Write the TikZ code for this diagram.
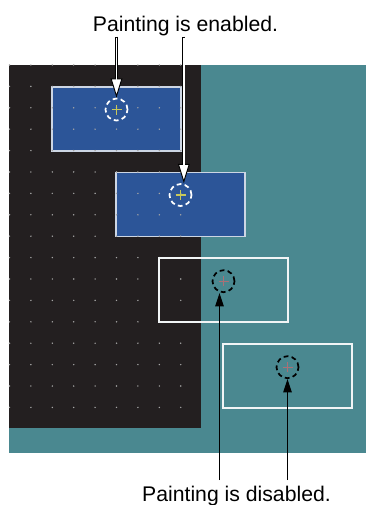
\documentclass[tikz,border=0pt]{standalone}
\usepackage{fontspec}
\setmainfont{Liberation Sans}
\usepackage{xcolor}
\usepackage{tikz}
\usetikzlibrary{positioning, arrows.meta}
\definecolor{teal}{RGB}{74,136,144}
\definecolor{canvas}{RGB}{35,31,32}
\definecolor{winblue}{RGB}{44,85,152}
\definecolor{winedge}{RGB}{205,214,228}
\definecolor{griddot}{RGB}{165,165,165}
\definecolor{crossyel}{RGB}{200,200,90}
\definecolor{crosspink}{RGB}{170,112,118}
\tikzset{
  window/.style={
    rectangle, inner sep=0pt, outer sep=0pt,
    minimum width=96.75pt, minimum height=48pt, line width=1.1pt
  },
  painted/.style={window, draw=winedge, fill=winblue},
  unpainted/.style={window, draw=white!92!teal},
  cursor/.style={
    circle, inner sep=0pt, minimum size=16.5pt, line width=1.3pt,
    dash pattern=on 3.6pt off 2.5pt
  },
  cursor on/.style={cursor, draw=white},
  cursor off/.style={cursor, draw=black},
  hair/.style={line width=0.9pt},
  caption/.style={inner sep=0pt, anchor=base, font=\fontsize{15.9}{19}\selectfont},
  tip open/.style={-{Triangle[open, fill=white, length=14.5pt, width=8.8pt, line width=0.7pt]}},
  tip solid/.style={-{Triangle[length=10pt, width=6.3pt]}},
}

\begin{document}
\begin{tikzpicture}[x=0.75pt, y=-0.75pt, node distance=8pt]
  \useasboundingbox (0,0) rectangle (366,505);

  % background and drawing area
  \fill[teal] (9,65) rectangle (366,453);
  \fill[canvas] (9,65) rectangle (201,428);

  % painted windows
  \node[painted] (win1) at (116.5,119) {};
  \node[painted] (win2) at (180.5,204.5) {};

  % grid dots
  \foreach \i in {0,...,8}
    \foreach \j in {0,...,16}
      \fill[griddot] ({9.5+21.4*\i},{65+21.4*\j}) circle (0.6pt);

  % windows that are not painted
  \node[unpainted] (win3) at (223.5,290) {};
  \node[unpainted] (win4) at (287.5,376) {};

  % cursors
  \node[cursor on, below=of win1.north] (cur1) {};
  \node[cursor on, below=of win2.north] (cur2) {};
  \node[cursor off, below=8.5pt of win3.north] (cur3) {};
  \node[cursor off, below=8.5pt of win4.north] (cur4) {};
  \foreach \c in {cur1,cur2}
    \draw[hair, crossyel] (\c.center) +(-5,0) -- +(5,0) (\c.center) +(0,-5) -- +(0,5);
  \foreach \c in {cur3,cur4}
    \draw[hair, crosspink] (\c.center) +(-5,0) -- +(5,0) (\c.center) +(0,-5) -- +(0,5);

  % captions
  \node[caption] (enabled) at (185.5,32) {Painting is enabled.};
  \node[caption] (disabled) at (236.5,501) {Painting is disabled.};

  % arrows
  \draw[line width=2.25pt, tip open] (cur1 |- enabled.south) -- (cur1.north);
  \draw[line width=1pt, white, shorten >=13.5pt] ([yshift=-0.8pt]cur1 |- enabled.south) -- (cur1.north);
  \draw[line width=2.25pt, tip open] ([xshift=2.5pt]cur2 |- enabled.south) -- ([xshift=2.5pt]cur2.north);
  \draw[line width=1pt, white, shorten >=13.5pt] ([xshift=2.5pt,yshift=-0.8pt]cur2 |- enabled.south) -- ([xshift=2.5pt]cur2.north);
  \draw[line width=1pt, tip solid] ([xshift=-3pt,yshift=4pt]cur3 |- disabled.north) -- ([xshift=-3pt]cur3.south);
  \draw[line width=1pt, tip solid] ([yshift=4pt]cur4 |- disabled.north) -- (cur4.south);
\end{tikzpicture}
\end{document}
